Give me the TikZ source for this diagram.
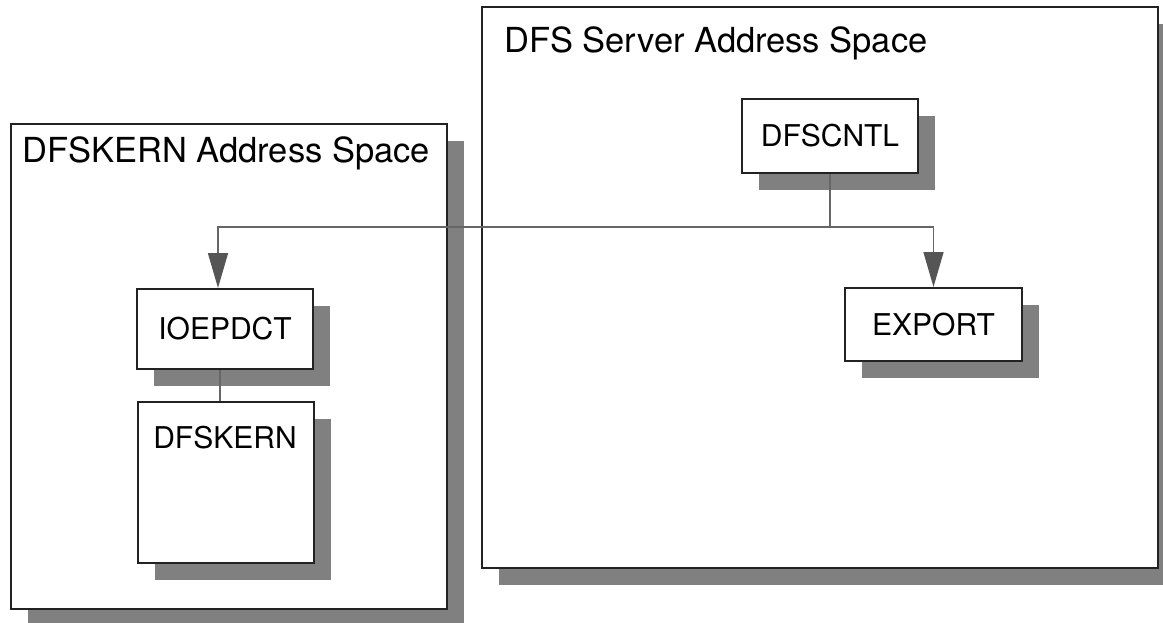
\documentclass[tikz,border=0pt]{standalone}
\usepackage{fontspec}
\setmainfont{TeX Gyre Heros}
\usetikzlibrary{shadows,arrows.meta}
\definecolor{shade}{HTML}{808080}
\definecolor{edge}{HTML}{222222}
\definecolor{wirecol}{HTML}{666666}
\definecolor{tipfill}{HTML}{555555}

\begin{document}
\begin{tikzpicture}[x=1pt,y=-1pt,
  boxshadow/.style={drop shadow={shadow xshift=17pt,shadow yshift=-17pt,fill=shade,opacity=1}},
  space/.style={draw=edge,line width=2pt,fill=white,inner sep=0pt,anchor=north west,boxshadow},
  module/.style={draw=edge,line width=2pt,fill=white,inner sep=0pt,anchor=north west,boxshadow,
                 font=\fontsize{30}{36}\selectfont},
  modlabel/.style={inner sep=0pt,anchor=base,font=\fontsize{30}{36}\selectfont},
  spacetitle/.style={anchor=base west,inner sep=0pt,font=\fontsize{34.5}{40}\selectfont},
  wire/.style={draw=wirecol,line width=1.5pt},
  flow/.style={wire,-{Triangle[length=35pt,width=20pt,fill=tipfill,color=tipfill]}}]

\useasboundingbox (0,0) rectangle (1163,623);
\clip (0,0) rectangle (1163,623);

% address spaces
\node[space,minimum width=436pt,minimum height=485pt] (kernspace) at (10,123) {};
\node[spacetitle] (kerntitle) at (22,163) {DFSKERN Address Space};
\node[space,minimum width=676pt,minimum height=561pt] (serverspace) at (481,6) {};
\node[spacetitle] (servertitle) at (504,53) {DFS Server Address Space};

% modules
\node[module,minimum width=176pt,minimum height=74pt] (dfscntl) at (741,98) {DFSCNTL};
\node[module,minimum width=176pt,minimum height=80pt] (ioepdct) at (136,288) {IOEPDCT};
\node[module,minimum width=176pt,minimum height=161pt] (dfskern) at (137,401) {};
\node[modlabel] (dfskernlabel) at (225,448) {DFSKERN};
\node[module,minimum width=177pt,minimum height=73pt] (export) at (844,287) {EXPORT};

% connectors
\coordinate (fork) at (dfscntl.south |- 0,227);
\coordinate (forkwest) at (218,227);
\coordinate (linktop) at ([xshift=-5pt]ioepdct.south);
\draw[wire] (dfscntl.south) -- (fork);
\draw[flow] (fork) -- (forkwest) -- (forkwest |- ioepdct.north);
\draw[flow] (fork) -| (export.north);
\draw[wire] (linktop) -- (linktop |- dfskern.north);
\end{tikzpicture}
\end{document}
